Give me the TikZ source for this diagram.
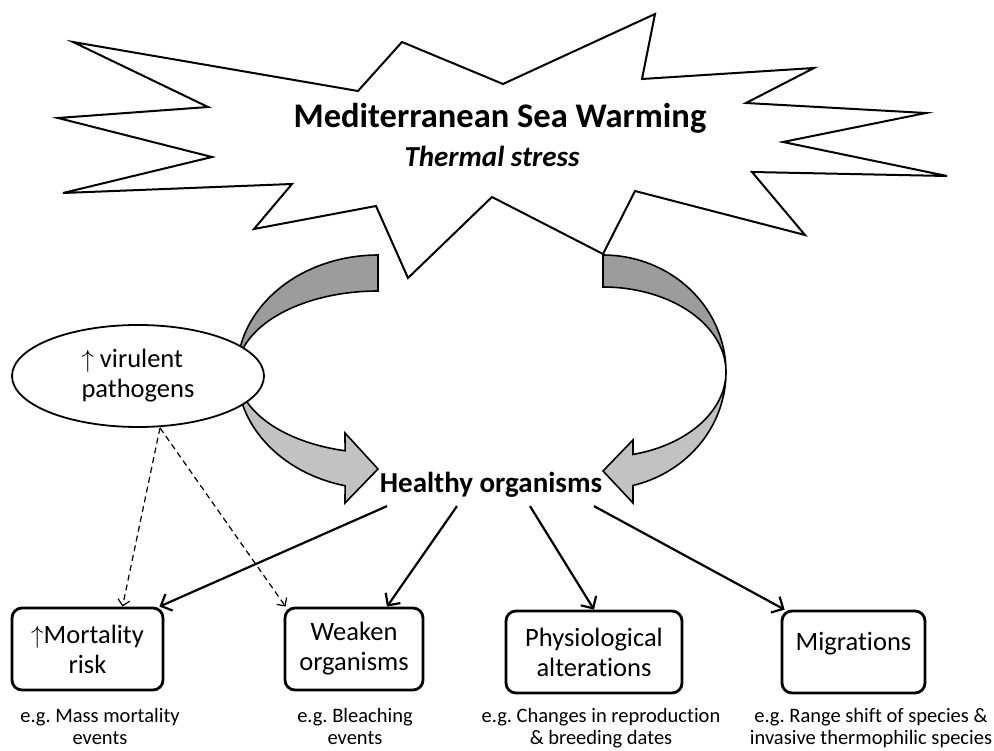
\documentclass[tikz,border=0pt]{standalone}
\usepackage{fontspec}
\setmainfont{Carlito}[Ligatures=NoCommon]
\frenchspacing
\usetikzlibrary{arrows.meta,calc,shapes.geometric}
\definecolor{darkfill}{HTML}{9C9C9C}
\definecolor{lightfill}{HTML}{C2C2C2}
\begin{document}
\begin{tikzpicture}[x=1pt,y=-1pt,
  starline/.style={draw=black, line width=2pt, fill=white, line join=miter},
  darkband/.style={draw=black, line width=1.6pt, fill=darkfill, line join=miter},
  lightband/.style={draw=black, line width=1.6pt, fill=lightfill, line join=miter},
  effbox/.style={draw, line width=2.8pt, rounded corners=10pt, fill=white, minimum height=82pt, inner sep=0pt, align=center, font=\fontsize{26.5}{30}\selectfont},
  captxt/.style={font=\fontsize{20.5}{22}\selectfont, align=center, anchor=north, inner sep=0pt},
  conn/.style={draw, line width=2.2pt, -{Straight Barb[length=9pt,width=18pt]}},
  dconn/.style={draw, line width=1.2pt, dash pattern=on 6pt off 4pt, -{Straight Barb[length=6pt,width=12pt]}}
]
\useasboundingbox (0,0) rectangle (994,751);

% starburst
\draw[starline] (73,42) -- (358,91) -- (402,42) -- (503,84) -- (655,14) -- (642,79)
  -- (814,68) -- (746,103) -- (926,113) -- (783,142) -- (947,176) -- (752,172)
  -- (805,235) -- (635,191) -- (603,254) -- (492,197) -- (408,278) -- (376,206)
  -- (254,229) -- (292,184) -- (63,193) -- (212,157) -- (58,118) -- (208,107) -- cycle;

\node[font=\fontsize{34.5}{38}\selectfont\bfseries, anchor=base, inner sep=0pt] (title) at (500,128) {Mediterranean Sea Warming};
\node[font=\fontsize{29}{32}\selectfont\bfseries\itshape, anchor=base, inner sep=0pt] (sub) at (492,167) {Thermal stress};

% left curved arrow
\draw[darkband] plot[domain=90:180, samples=40] ({378+141*cos(\x)},{372-117*sin(\x)})
  -- plot[domain=180:90, samples=40] ({378+141*cos(\x)},{372-81*sin(\x)}) -- cycle;
\draw[lightband] plot[domain=180:256.5, samples=40] ({378+141*cos(\x)},{372-117*sin(\x)})
  -- (345,503) -- (378,469) -- (345,433)
  -- plot[domain=256.5:180, samples=40] ({378+141*cos(\x)},{372-81*sin(\x)}) -- cycle;

% right curved arrow
\draw[darkband] plot[domain=90:0, samples=40] ({603+123*cos(\x)},{372-117*sin(\x)})
  -- plot[domain=0:90, samples=40] ({603+123*cos(\x)},{372-85*sin(\x)}) -- cycle;
\draw[lightband] plot[domain=0:-75.9, samples=40] ({603+123*cos(\x)},{372-117*sin(\x)})
  -- (633,503) -- (603,471) -- (633,440)
  -- plot[domain=-75.9:0, samples=40] ({603+123*cos(\x)},{372-85*sin(\x)}) -- cycle;

% pathogens ellipse
\node[draw, ellipse, line width=1.8pt, fill=white, minimum width=252pt, minimum height=102pt, inner sep=0pt,
  align=left, font=\fontsize{26.5}{30}\selectfont] (patho) at (138,376) {$\uparrow$ virulent\\pathogens};

\node[font=\fontsize{29}{32}\selectfont\bfseries, anchor=base, inner sep=0pt] (healthy) at (491,492) {Healthy organisms};

% boxes
\node[effbox, minimum width=151pt] (mort) at (87.5,649) {$\uparrow$Mortality\\risk};
\node[effbox, minimum width=138pt] (weak) at (354,649) {Weaken\\organisms};
\node[effbox, minimum width=176pt] (phys) at (594,652) {Physiological\\alterations};
\node[effbox, minimum width=143pt, text height=18pt, text depth=22pt] (migr) at (853.5,652) {Migrations};

% captions
\node[captxt] (cmort) at (100,708) {e.g. Mass mortality\\events};
\node[captxt] (cweak) at (355,708) {e.g. Bleaching\\events};
\node[captxt] (cphys) at (601,708) {e.g. Changes in reproduction\\\& breeding dates};
\node[captxt] (cmigr) at (871,708) {e.g. Range shift of species \&\\invasive thermophilic species};

% connectors
\draw[conn] ([xshift=-104pt,yshift=-9pt]healthy.south) -- ([xshift=-5pt]mort.north east);
\draw[conn] ([xshift=-34pt,yshift=-9pt]healthy.south) -- ([xshift=33pt]weak.north);
\draw[conn] ([xshift=39pt,yshift=-9pt]healthy.south) -- (phys.north);
\draw[conn] ([xshift=103pt,yshift=-9pt]healthy.south) -- ([xshift=4pt]migr.north west);

\draw[dconn] ([xshift=22pt]patho.south) -- ([xshift=35pt]mort.north);
\draw[dconn] ([xshift=22pt]patho.south) -- ([xshift=2pt]weak.north west);
\end{tikzpicture}
\end{document}
